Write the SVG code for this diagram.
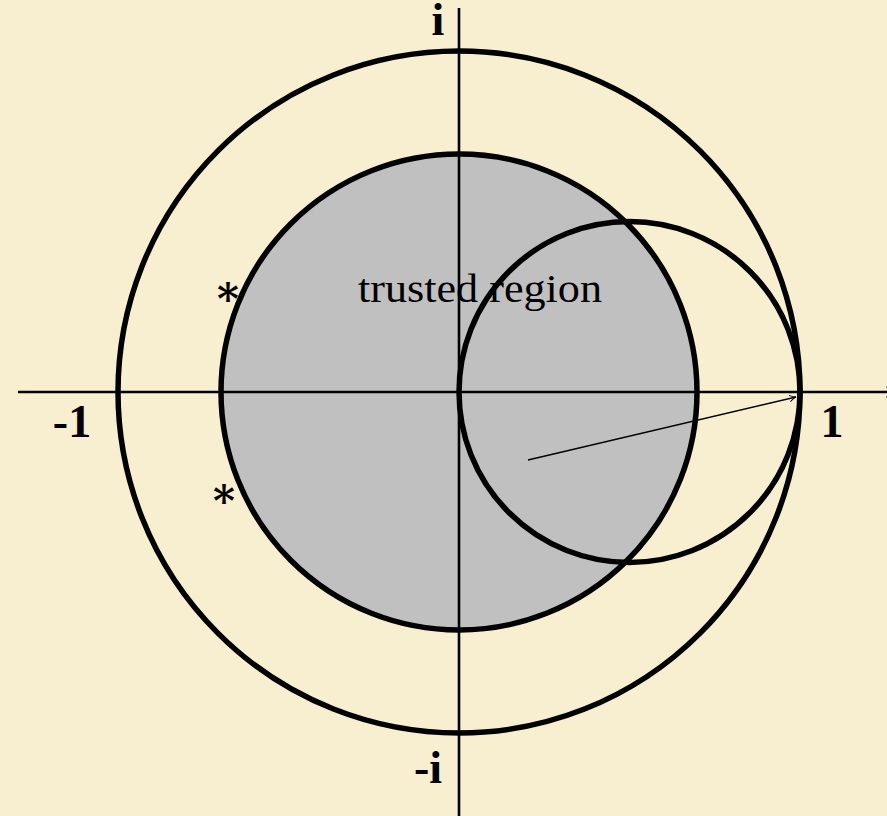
<svg xmlns="http://www.w3.org/2000/svg" width="887" height="816" viewBox="0 0 887 816">
<style>
.lbl{font-family:"Liberation Serif","DejaVu Serif",serif;font-weight:bold;font-size:46px;fill:#000}
.ast{font-family:"DejaVu Serif","Liberation Serif",serif;font-weight:bold;font-size:42px;fill:#000}
.txt{font-family:"Liberation Serif","DejaVu Serif",serif;font-size:41px;fill:#000}
.circ{fill:none;stroke:#000;stroke-width:5.5}
.axis{stroke:#000;stroke-width:2.6;fill:none}
</style>
<defs>
<marker id="ah" viewBox="0 0 10 10" refX="9" refY="5" markerWidth="8" markerHeight="8" markerUnits="userSpaceOnUse" orient="auto">
<path d="M1,1 Q5,4 9,5 Q5,6 1,9" fill="none" stroke="#000" stroke-width="1.2"/>
</marker>
<marker id="ah2" viewBox="0 0 16 16" refX="14" refY="8" markerWidth="14" markerHeight="14" markerUnits="userSpaceOnUse" orient="auto">
<path d="M2,2 Q8,6.5 14,8 Q8,9.5 2,14" fill="none" stroke="#000" stroke-width="1.6"/>
</marker>
</defs>
<rect width="887" height="816" fill="#F8EFD0"/>
<g id="trusted-region">
<circle cx="459" cy="392" r="238" fill="#C0C0C0"/>
<text class="txt" x="358" y="302" textLength="244" lengthAdjust="spacingAndGlyphs">trusted region</text>
</g>
<g id="connectors">
<line class="axis" x1="18" y1="392" x2="897" y2="392" marker-end="url(#ah2)"/>
<line class="axis" x1="459" y1="8" x2="459" y2="816"/>
<line x1="528" y1="460" x2="796" y2="397" stroke="#000" stroke-width="1.5" marker-end="url(#ah)"/>
</g>
<g id="unit-circle"><circle class="circ" cx="459" cy="392" r="341"/></g>
<g id="trusted-circle"><circle class="circ" cx="459" cy="392" r="238"/></g>
<g id="small-circle"><circle class="circ" cx="629.5" cy="392" r="170.5"/></g>
<g id="labels">
<text class="lbl" x="438" y="35" text-anchor="middle">i</text>
<text class="lbl" x="428" y="783" text-anchor="middle">-i</text>
<text class="lbl" x="72" y="437" text-anchor="middle">-1</text>
<text class="lbl" x="832" y="437" text-anchor="middle">1</text>
<text class="ast" x="228" y="314" text-anchor="middle">*</text>
<text class="ast" x="224" y="516" text-anchor="middle">*</text>
</g>
</svg>
